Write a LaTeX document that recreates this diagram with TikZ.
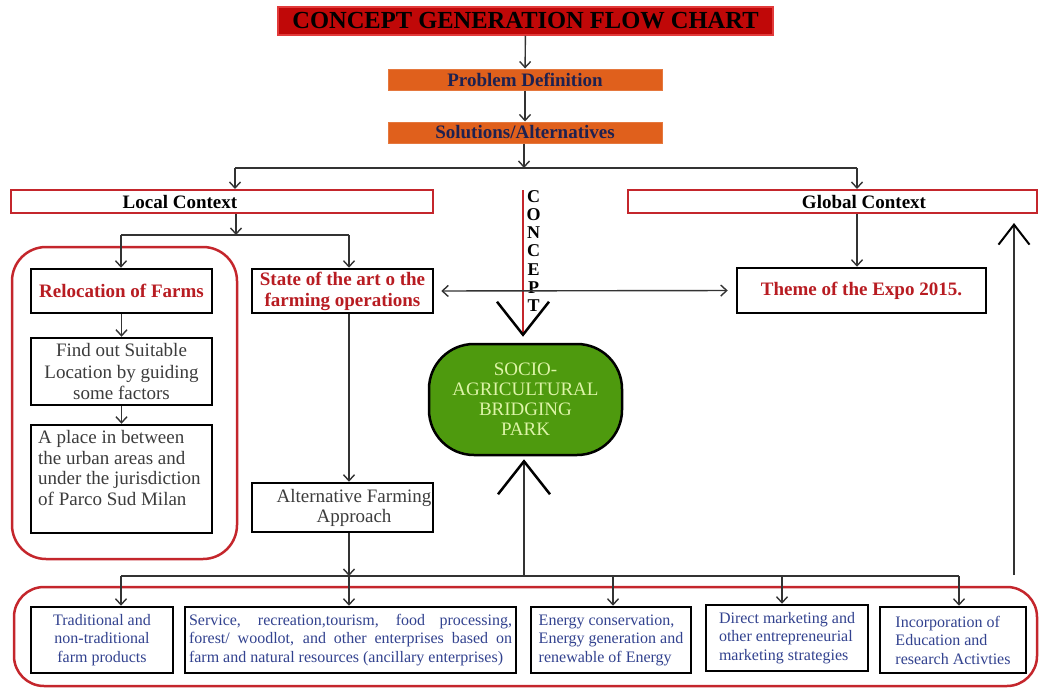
\documentclass[tikz,border=0pt]{standalone}
\usepackage{fontspec}
\setmainfont{Liberation Serif}
\usetikzlibrary{arrows.meta}
\definecolor{titlered}{HTML}{C00808}
\definecolor{titleedge}{HTML}{E23A3A}
\definecolor{orangebox}{HTML}{E0601C}
\definecolor{navydark}{HTML}{1E2150}
\definecolor{ctxred}{HTML}{C4262C}
\definecolor{redtxt}{HTML}{B81C22}
\definecolor{greenbox}{HTML}{4E9A0E}
\definecolor{greentxt}{HTML}{DDF4A8}
\definecolor{navytxt}{HTML}{32428F}
\definecolor{graytxt}{HTML}{3C3C3C}
\definecolor{linegray}{HTML}{333333}
\newcommand\myfs[2]{\fontsize{#1}{#2}\selectfont}
\begin{document}
\begin{tikzpicture}[x=1pt,y=-1pt,
  conn/.style={draw=linegray, line width=1.4pt},
  arr/.style={conn, -{Straight Barb[length=6pt,width=11pt,line width=1.4pt]}},
  dblarr/.style={conn, {Straight Barb[length=6pt,width=11pt,line width=1.4pt]}-{Straight Barb[length=6pt,width=11pt,line width=1.4pt]}},
  bigtip/.style={-{Straight Barb[length=33pt,width=52pt,line width=2.5pt,color=black]}},
  smalltip/.style={-{Straight Barb[length=20pt,width=31pt,line width=2pt,color=black]}},
  blkbox/.style={draw=black, line width=2.5pt, fill=white, inner sep=0pt},
  ctxbox/.style={draw=ctxred, line width=2pt, fill=white, inner sep=0pt, minimum height=23pt},
  boldtxt/.style={font=\myfs{19}{21}\bfseries},
  redbold/.style={boldtxt, text=redtxt, align=center},
  graybox/.style={blkbox, text=graytxt, font=\myfs{19}{21.5}, align=center},
  botbox/.style={blkbox, text=navytxt, font=\myfs{16}{18.5}, minimum height=66pt},
  orangestep/.style={fill=orangebox, draw=orangebox!85!white, line width=1pt, minimum width=274pt, minimum height=21pt, inner sep=0pt, text=navydark, boldtxt},
  container/.style={draw=ctxred, line width=2.5pt, rounded corners=34pt}
]
\useasboundingbox (0,0) rectangle (1039,688);

% containers
\draw[container] (12,247) rectangle (237,559);
\draw[container, rounded corners=30pt] (14,587) rectangle (1037,686);

% title and steps
\node[fill=titlered, draw=titleedge, line width=1.5pt, minimum width=495pt, minimum height=28pt, inner sep=0pt, font=\myfs{24.5}{26}\bfseries, text=black] (title) at (525.5,21) {CONCEPT GENERATION FLOW CHART};
\node[orangestep] (pd) at (525,79.5) {Problem Definition};
\node[orangestep] (sa) at (525,132.5) {Solutions/Alternatives};

% context boxes
\node[ctxbox, minimum width=422pt] (local) at (222,201.5) {};
\node[boldtxt] (localtxt) at (180,201.5) {Local Context};
\node[ctxbox, minimum width=409pt] (glob) at (832.5,201.5) {};
\node[boldtxt] (globtxt) at (864,201.5) {Global Context};

% left column
\node[blkbox, redbold, minimum width=181pt, minimum height=44pt] (reloc) at (121.5,291) {Relocation of Farms};
\node[graybox, minimum width=181pt, minimum height=67pt] (find) at (121.5,371.5) {Find out Suitable\\Location by guiding\\some factors};
\node[blkbox, minimum width=181pt, minimum height=108pt] (place) at (121.5,479) {};
\node[text=graytxt, font=\myfs{19}{20.7}, align=left, anchor=north west, inner sep=0pt] (placetxt) at (38,430) {A place in between\\the urban areas and\\under the jurisdiction\\of Parco Sud Milan};

% middle column
\node[blkbox, redbold, minimum width=181pt, minimum height=44pt] (state) at (342.5,291) {State of the art o the\\farming operations};
\node[blkbox, minimum width=181pt, minimum height=49pt] (alt) at (342.5,507.5) {};
\node[text=graytxt, font=\myfs{19}{20.5}, align=center, inner sep=0pt] (alttxt) at (354,508) {Alternative Farming\\Approach};

% right
\node[blkbox, redbold, minimum width=249pt, minimum height=45pt] (theme) at (861.5,290.5) {Theme of the Expo 2015.};

% central park
\node[fill=greenbox, draw=black, line width=2.5pt, rounded corners=45pt, minimum width=193pt, minimum height=111pt, inner sep=0pt, text=greentxt, font=\myfs{19}{20}, align=center] (socio) at (525.5,399.5) {SOCIO-\\AGRICULTURAL\\BRIDGING\\PARK};

% concept
\coordinate (c0) at (523,190);
\draw[draw=ctxred, line width=2.2pt, bigtip, shorten >=6pt] (c0) -- (c0 |- socio.north);
\node[font=\myfs{18}{18.2}\bfseries, align=center, inner sep=0pt] (concepttxt) at (533.5,251) {C\\O\\N\\C\\E\\P\\T};

% bottom boxes
\node[botbox, minimum width=142pt, align=center] (trad) at (102,640) {Traditional and\\non-traditional\\farm products};
\node[botbox, minimum width=331pt, text width=323pt, align=justify] (serv) at (350.5,640) {Service, recreation,tourism, food processing,\linebreak forest/ woodlot, and other enterprises based on\linebreak farm and natural resources (ancillary enterprises)};
\node[botbox, minimum width=160pt, align=left] (ener) at (611,640) {Energy conservation,\\Energy generation and\\renewable of Energy};
\node[botbox, minimum width=162pt, align=left] (dire) at (787,638) {Direct marketing and\\other entrepreneurial\\marketing strategies};
\node[botbox, minimum width=146pt, align=left] (inco) at (953,640) {Incorporation of\\Education and\\research Activties};

% top connectors
\draw[arr] (title) -- (pd);
\draw[arr] (pd) -- (sa);
\coordinate (j1) at (524,168);
\coordinate (jl) at (235,168);
\coordinate (jg) at (857,168);
\draw[arr] (sa.south -| j1) -- (j1);
\draw[conn] (jl) -- (jg);
\draw[arr] (jl) -- (jl |- local.north);
\draw[arr] (jg) -- (jg |- glob.north);

% local context branch
\coordinate (j2) at (236,235);
\coordinate (j2l) at (121,235);
\coordinate (j2r) at (349,235);
\draw[arr] (j2 |- local.south) -- (j2);
\draw[conn] (j2l) -- (j2r);
\draw[arr] (j2l) -- (j2l |- reloc.north);
\draw[arr] (j2r) -- (j2r |- state.north);
\draw[arr] (reloc) -- (find);
\draw[arr] (find) -- (place);

% global branch
\draw[arr] (jg |- glob.south) -- (jg |- theme.north);
\draw[dblarr, shorten <=7pt, shorten >=8pt] (state.east) -- (theme.west);

% middle down
\draw[arr] (j2r |- state.south) -- (j2r |- alt.north);
\coordinate (j3) at (349,576);
\draw[arr] (j2r |- alt.south) -- (j3);

% bottom distribution
\coordinate (b1) at (121,576);
\coordinate (b3) at (613,576);
\coordinate (b4) at (782,576);
\coordinate (b5) at (959,576);
\coordinate (b0) at (524,576);
\draw[conn] (b1) -- (b5);
\draw[arr] (b1) -- (b1 |- trad.north);
\draw[arr] (j3) -- (j3 |- serv.north);
\draw[arr] (b3) -- (b3 |- ener.north);
\draw[arr] (b4) -- (b4 |- dire.north);
\draw[arr] (b5) -- (b5 |- inco.north);

% upward arrows
\draw[conn, bigtip, shorten >=3pt] (b0) -- (b0 |- socio.south);
\coordinate (r0) at (1014,575);
\draw[conn, smalltip, shorten >=9pt] (r0) -- (r0 |- glob.south);
\end{tikzpicture}
\end{document}
